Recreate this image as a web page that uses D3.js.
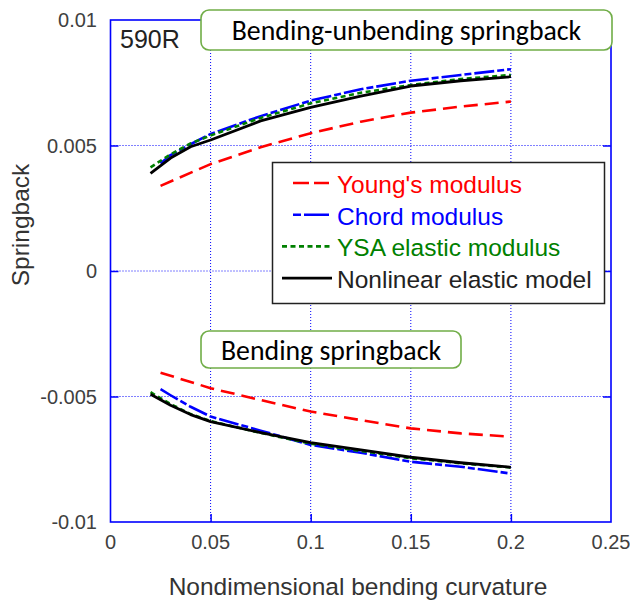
<!DOCTYPE html>
<html><head><meta charset="utf-8">
<script src="https://cdn.jsdelivr.net/npm/d3@7"></script>
<style>body{margin:0;background:#fff}svg{display:block}</style>
</head><body>
<svg id="c" width="630" height="602"></svg>
<script>
// ---- data ----
const xTicks = [0, 0.05, 0.1, 0.15, 0.2, 0.25];
const yTicks = [-0.01, -0.005, 0, 0.005, 0.01];
const xTickLabels = ["0", "0.05", "0.1", "0.15", "0.2", "0.25"];
const yTickLabels = ["-0.01", "-0.005", "0", "0.005", "0.01"];

const xMain = [0.02, 0.03, 0.04, 0.05, 0.075, 0.1, 0.125, 0.15, 0.175, 0.2];
const xLate = [0.025, 0.03, 0.04, 0.05, 0.075, 0.1, 0.125, 0.15, 0.175, 0.2];
const xYoung = [0.025, 0.05, 0.075, 0.1, 0.125, 0.15, 0.175, 0.2];

// Bending-unbending springback (upper)
const youngUpper = [0.00339, 0.00426, 0.00493, 0.00549, 0.00595, 0.00631, 0.00655, 0.00675];
const chordUpper = [0.00428, 0.00462, 0.00505, 0.00546, 0.00617, 0.00679, 0.00724, 0.00758, 0.00781, 0.00804];
const ysaUpper = [0.00413, 0.00465, 0.00508, 0.00540, 0.00610, 0.00668, 0.00710, 0.00741, 0.00765, 0.00781];
const nonlinUpper = [0.00389, 0.00450, 0.00495, 0.00522, 0.00598, 0.00652, 0.00697, 0.00737, 0.00758, 0.00774];

// Bending springback (lower)
const youngLower = [-0.00405, -0.00467, -0.00514, -0.00560, -0.00594, -0.00627, -0.00647, -0.00660];
const chordLower = [-0.00471, -0.00495, -0.00541, -0.00580, -0.00636, -0.00693, -0.00724, -0.00760, -0.00780, -0.00807];
const ysaLower = [-0.00483, -0.00530, -0.00570, -0.00598, -0.00645, -0.00688, -0.00717, -0.00746, -0.00766, -0.00783];
const nonlinLower = [-0.00491, -0.00535, -0.00572, -0.00600, -0.00644, -0.00684, -0.00713, -0.00742, -0.00764, -0.00782];

const legendLabels = ["Young's modulus", "Chord modulus", "YSA elastic modulus", "Nonlinear elastic model"];

// ---- layout ----
const svg = d3.select("#c");
const L = 110.5, R = 611, T = 20, B = 522;
const x = d3.scaleLinear().domain([0, 0.25]).range([L, R]);
const y = d3.scaleLinear().domain([-0.01, 0.01]).range([B, T]);
const font = "'Liberation Sans', Arial, sans-serif";
const blue = "#0000ff";

const styles = {
  young: {color: "#ff0000", dash: "14,7", w: 2.6},
  chord: {color: "#0000ff", dash: "20,3,7,3", w: 2.6},
  ysa:   {color: "#008000", dash: "5,3.5", w: 2.6},
  nonlin:{color: "#000000", dash: null, w: 2.8}
};

// grid
const g = svg.append("g");
g.selectAll("line.gx").data(xTicks.slice(1, -1)).join("line")
  .attr("x1", d => x(d)).attr("x2", d => x(d)).attr("y1", T).attr("y2", B)
  .attr("stroke", blue).attr("stroke-width", 1).attr("stroke-dasharray", "1,2");
g.selectAll("line.gy").data(yTicks.slice(1, -1)).join("line")
  .attr("y1", d => y(d)).attr("y2", d => y(d)).attr("x1", L).attr("x2", R)
  .attr("stroke", blue).attr("stroke-width", 1).attr("stroke-dasharray", "1,2");

// axes (inward ticks on four sides)
const tk = 8;
svg.append("g").attr("transform", `translate(0,${B})`)
  .call(d3.axisBottom(x).tickValues(xTicks.slice(1, -1)).tickSize(-tk).tickFormat(""))
  .call(a => a.select(".domain").remove()).selectAll("line").attr("stroke", blue).attr("stroke-width", 1.5);
svg.append("g").attr("transform", `translate(0,${T})`)
  .call(d3.axisTop(x).tickValues(xTicks.slice(1, -1)).tickSize(-tk).tickFormat(""))
  .call(a => a.select(".domain").remove()).selectAll("line").attr("stroke", blue).attr("stroke-width", 1.5);
svg.append("g").attr("transform", `translate(${L},0)`)
  .call(d3.axisLeft(y).tickValues(yTicks.slice(1, -1)).tickSize(-tk).tickFormat(""))
  .call(a => a.select(".domain").remove()).selectAll("line").attr("stroke", blue).attr("stroke-width", 1.5);
svg.append("g").attr("transform", `translate(${R},0)`)
  .call(d3.axisRight(y).tickValues(yTicks.slice(1, -1)).tickSize(-tk).tickFormat(""))
  .call(a => a.select(".domain").remove()).selectAll("line").attr("stroke", blue).attr("stroke-width", 1.5);

// frame
svg.append("rect").attr("x", L).attr("y", T).attr("width", R - L).attr("height", B - T)
  .attr("fill", "none").attr("stroke", blue).attr("stroke-width", 1.6);

// tick labels
svg.append("g").selectAll("text").data(xTicks).join("text")
  .attr("x", d => x(d)).attr("y", 548.5).attr("text-anchor", "middle")
  .attr("font-family", font).attr("font-size", 20).attr("fill", "#404040")
  .text((d, i) => xTickLabels[i]);
svg.append("g").selectAll("text").data(yTicks).join("text")
  .attr("x", 97).attr("y", d => y(d) + 7).attr("text-anchor", "end")
  .attr("font-family", font).attr("font-size", 20).attr("fill", "#404040")
  .text((d, i) => yTickLabels[i]);

// axis titles
svg.append("text").attr("x", 358).attr("y", 595).attr("text-anchor", "middle")
  .attr("font-family", font).attr("font-size", 24.5).attr("fill", "#333")
  .text("Nondimensional bending curvature");
svg.append("text").attr("transform", "translate(29,225) rotate(-90)").attr("text-anchor", "middle")
  .attr("font-family", font).attr("font-size", 24.5).attr("fill", "#333")
  .text("Springback");

// 590R
svg.append("text").attr("x", 120).attr("y", 47.5).attr("font-family", font)
  .attr("font-size", 25).attr("fill", "#222").text("590R");

// series
const line = d3.line().x(d => x(d[0])).y(d => y(d[1]));
const series = [
  {key: "young", xs: xYoung, ys: youngUpper},
  {key: "young", xs: xYoung, ys: youngLower},
  {key: "chord", xs: xLate, ys: chordUpper},
  {key: "chord", xs: xLate, ys: chordLower},
  {key: "ysa", xs: xMain, ys: ysaUpper},
  {key: "ysa", xs: xMain, ys: ysaLower},
  {key: "nonlin", xs: xMain, ys: nonlinUpper},
  {key: "nonlin", xs: xMain, ys: nonlinLower}
];
svg.append("g").selectAll("path").data(series).join("path")
  .attr("d", s => line(s.xs.map((v, i) => [v, s.ys[i]])))
  .attr("fill", "none")
  .attr("stroke", s => styles[s.key].color)
  .attr("stroke-width", s => styles[s.key].w)
  .attr("stroke-dasharray", s => styles[s.key].dash)
  .attr("stroke-linejoin", "round");

// legend
const lg = svg.append("g");
lg.append("rect").attr("x", 272.5).attr("y", 162.5).attr("width", 332).attr("height", 141)
  .attr("fill", "#fff").attr("stroke", "#222").attr("stroke-width", 1.5);
const keys = ["young", "chord", "ysa", "nonlin"];
const sampleX = [[293, 329], [293, 329], [282, 332], [282, 332]];
keys.forEach((k, i) => {
  const by = 193 + i * 31.7;
  lg.append("line").attr("x1", sampleX[i][0]).attr("x2", sampleX[i][1])
    .attr("y1", by - 10).attr("y2", by - 10)
    .attr("stroke", styles[k].color).attr("stroke-width", styles[k].w)
    .attr("stroke-dasharray", k === "chord" ? "8,3,25,3" : (k === "young" ? "16,5" : styles[k].dash));
  lg.append("text").attr("x", 337).attr("y", by).attr("font-family", font)
    .attr("font-size", 24.5).attr("fill", styles[k].color === "#000000" ? "#222" : styles[k].color)
    .text(legendLabels[i]);
});

// annotation boxes
const cal = "Carlito, Lato, 'Open Sans', sans-serif";
function box(x0, y0, w, h, txt, fs) {
  svg.append("rect").attr("x", x0).attr("y", y0).attr("width", w).attr("height", h)
    .attr("rx", 8).attr("fill", "#fff").attr("stroke", "#70ad47").attr("stroke-width", 1.6);
  svg.append("text").attr("x", x0 + w / 2).attr("y", y0 + h / 2 + 10).attr("text-anchor", "middle")
    .attr("font-family", cal).attr("font-size", fs).attr("fill", "#000").text(txt);
}
box(201, 10, 411, 40, "Bending-unbending springback", 27.8);
box(201, 331, 260, 37, "Bending springback", 27.8);
</script>
</body></html>
